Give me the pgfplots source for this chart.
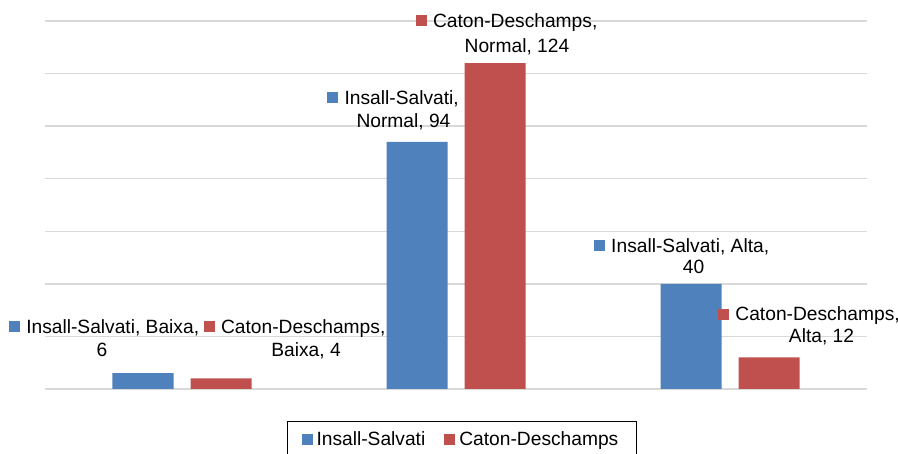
\documentclass[border=0pt]{standalone}
\usepackage{pgfplots}
\pgfplotsset{compat=1.18}
\usepackage{fontspec}
\setmainfont{Liberation Sans}
\definecolor{sblue}{RGB}{79,129,189}
\definecolor{sred}{RGB}{192,80,77}
\definecolor{gridc}{RGB}{217,217,217}
\newcommand{\sq}[1]{\textcolor{#1}{\rule[0.7pt]{5.5pt}{5.5pt}}\hspace{3.2pt}}
\begin{document}
\begin{tikzpicture}
\path[use as bounding box] (-22.5pt,-32.5pt) rectangle (426.5pt,194.5pt);
\begin{axis}[
  at={(0,0)}, anchor=south west,
  scale only axis, width=411pt, height=184pt,
  xmin=-0.5, xmax=2.5, ymin=0, ymax=140,
  ytick={0,20,...,140}, xtick=\empty,
  yticklabels={},
  ymajorgrids, grid style={gridc, line width=0.65pt},
  axis line style={draw=none},
  major tick length=0pt,
  ybar=8.5pt, bar width=30.5pt,
  font=\fontsize{9.6}{11.5}\selectfont,
  legend columns=2,
  legend style={at={(rel axis cs:0.2944,-0.087)}, anchor=north west,
    draw=black, line width=0.5pt, inner xsep=7pt, inner ysep=3pt,
    font=\fontsize{9.6}{11.5}\selectfont,
    /tikz/every even column/.append style={column sep=7.5pt}},
  legend image code/.code={\fill (0pt,-2.75pt) rectangle (5.5pt,2.75pt);},
  clip=false,
  nodes={inner sep=0pt},
]
\addplot[fill=sblue, draw=none] coordinates {(0,6) (1,94) (2,40)};
\addplot[fill=sred, draw=none] coordinates {(0,4) (1,124) (2,12)};
\legend{Insall-Salvati, Caton-Deschamps}
\node[anchor=base] at (axis cs:-0.2847,21.30) {\sq{sblue}Insall-Salvati, Baixa,};
\node[anchor=base] at (axis cs:-0.292,12.55) {6};
\node[anchor=base] at (axis cs:0.4106,21.30) {\sq{sred}Caton-Deschamps,};
\node[anchor=base] at (axis cs:0.4526,12.55) {Baixa, 4};
\node[anchor=base] at (axis cs:1.1843,137.7) {\sq{sred}Caton-Deschamps,};
\node[anchor=base] at (axis cs:1.2226,128.2) {Normal, 124};
\node[anchor=base] at (axis cs:0.770,108.4) {\sq{sblue}Insall-Salvati,};
\node[anchor=base] at (axis cs:0.8084,99.66) {Normal, 94};
\node[anchor=base] at (axis cs:1.823,52.11) {\sq{sblue}Insall-Salvati, Alta,};
\node[anchor=base] at (axis cs:1.867,44.12) {40};
\node[anchor=base] at (axis cs:2.288,25.87) {\sq{sred}Caton-Deschamps,};
\node[anchor=base] at (axis cs:2.334,17.50) {Alta, 12};
\end{axis}
\end{tikzpicture}
\end{document}
